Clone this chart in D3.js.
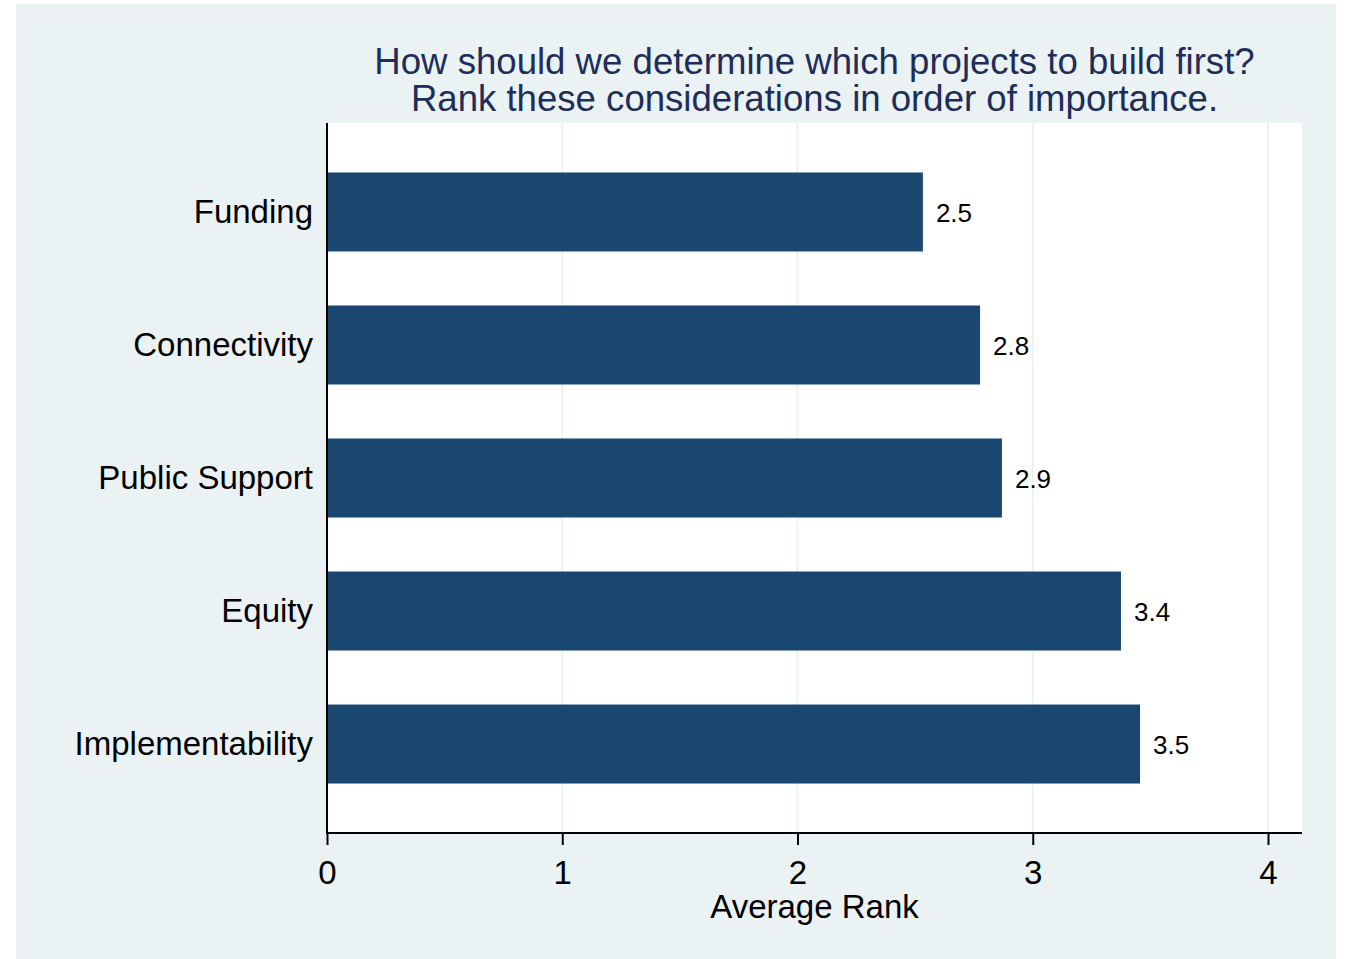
<!DOCTYPE html>
<html>
<head>
<meta charset="utf-8">
<script src="https://cdn.jsdelivr.net/npm/d3@7"></script>
<style>
  body { margin: 0; background: #fff; }
</style>
</head>
<body>
<script>
const categories = ["Funding", "Connectivity", "Public Support", "Equity", "Implementability"];
const values = [2.533, 2.776, 2.869, 3.375, 3.456];
const xTicks = [0, 1, 2, 3, 4];
const titleLines = ["How should we determine which projects to build first?",
                    "Rank these considerations in order of importance."];

const width = 1345, height = 959;
const margin = { left: 327, right: 1302, top: 123, bottom: 833 };
const font = "'Liberation Sans', Arial, sans-serif";

const svg = d3.select("body").append("svg")
  .attr("width", width)
  .attr("height", height)
  .attr("font-family", font);

// outer graph region
svg.append("rect")
  .attr("x", 16).attr("y", 4)
  .attr("width", 1320).attr("height", 955)
  .attr("fill", "#eaf2f3");

// plot region
svg.append("rect")
  .attr("x", margin.left).attr("y", margin.top)
  .attr("width", margin.right - margin.left)
  .attr("height", margin.bottom - margin.top)
  .attr("fill", "#fff");

const x = d3.scaleLinear().domain([0, 4]).range([margin.left, 1268]);
const y = d3.scaleBand()
  .domain(categories)
  .range([margin.top, margin.bottom])
  .paddingInner(0.406)
  .paddingOuter(0.372);

// gridlines
svg.append("g")
  .selectAll("line")
  .data(xTicks.slice(1))
  .join("line")
  .attr("x1", d => x(d)).attr("x2", d => x(d))
  .attr("y1", margin.top).attr("y2", margin.bottom)
  .attr("stroke", "#eaf2f3")
  .attr("stroke-width", 2);

// bars
svg.append("g")
  .selectAll("rect")
  .data(categories)
  .join("rect")
  .attr("x", x(0))
  .attr("y", d => y(d))
  .attr("width", (d, i) => x(values[i]) - x(0))
  .attr("height", y.bandwidth())
  .attr("fill", "#1a476f");

// value labels
svg.append("g")
  .selectAll("text")
  .data(categories)
  .join("text")
  .attr("x", (d, i) => x(values[i]) + 13)
  .attr("y", d => y(d) + y.bandwidth() / 2 + 1)
  .attr("dy", "0.35em")
  .attr("font-size", 26)
  .attr("fill", "#000")
  .text((d, i) => values[i].toFixed(1));

// x axis
const xAxis = svg.append("g")
  .attr("transform", `translate(0,${margin.bottom})`)
  .call(d3.axisBottom(x).tickValues(xTicks).tickSize(12).tickPadding(16).tickFormat(d3.format("d")));
xAxis.select(".domain").remove();
xAxis.append("line")
  .attr("x1", margin.left).attr("x2", margin.right)
  .attr("stroke", "#000").attr("stroke-width", 2);
xAxis.selectAll(".tick line").attr("stroke", "#000").attr("stroke-width", 2);
xAxis.selectAll(".tick text")
  .attr("font-family", font)
  .attr("font-size", 33)
  .attr("fill", "#000");

// y axis
const yAxis = svg.append("g")
  .attr("transform", `translate(${margin.left},0)`)
  .call(d3.axisLeft(y).tickSize(0).tickPadding(14));
yAxis.select(".domain").remove();
yAxis.append("line")
  .attr("y1", margin.top).attr("y2", margin.bottom + 1)
  .attr("stroke", "#000").attr("stroke-width", 2);
yAxis.selectAll(".tick text")
  .attr("font-family", font)
  .attr("font-size", 33)
  .attr("fill", "#000");

// axis title
svg.append("text")
  .attr("x", (margin.left + margin.right) / 2)
  .attr("y", 918)
  .attr("text-anchor", "middle")
  .attr("font-size", 33)
  .attr("fill", "#000")
  .text("Average Rank");

// title
svg.append("g")
  .selectAll("text")
  .data(titleLines)
  .join("text")
  .attr("x", (margin.left + margin.right) / 2)
  .attr("y", (d, i) => 74 + i * 37)
  .attr("text-anchor", "middle")
  .attr("font-size", 36.6)
  .attr("fill", "#1e2d59")
  .text(d => d);
</script>
</body>
</html>
